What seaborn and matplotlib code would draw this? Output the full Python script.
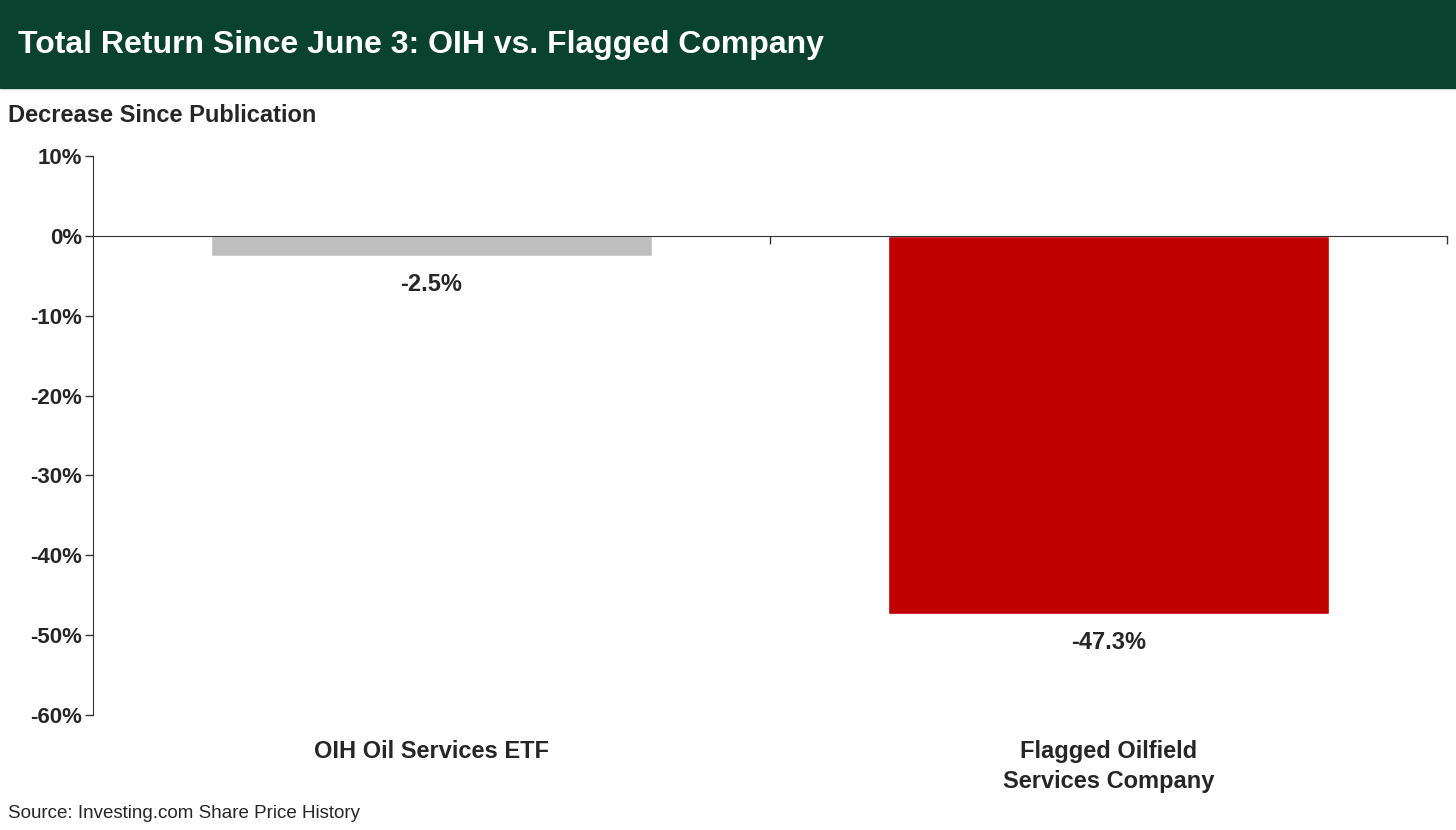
import matplotlib
matplotlib.use('Agg')
import matplotlib.pyplot as plt
import matplotlib.transforms as mtransforms
import seaborn as sns
import pandas as pd

categories = ['OIH Oil Services ETF', 'Flagged Oilfield\nServices Company']
values = [-2.5, -47.3]
bar_colors = ['#bfbfbf', '#c00000']
yticks = [10, 0, -10, -20, -30, -40, -50, -60]

df = pd.DataFrame({'cat': categories, 'val': values})

sns.set_style('white')
plt.rcParams['font.family'] = ['Liberation Sans', 'DejaVu Sans']

fig = plt.figure(figsize=(14.56, 8.3), dpi=100)
ax = fig.add_axes([93/1456, 1-715/830, 1354/1456, (715-156)/830])

sns.barplot(data=df, x='cat', y='val', hue='cat', palette=bar_colors,
            width=0.65, legend=False, ax=ax, saturation=1)

ax.set_xlim(-0.5, 1.5)
ax.set_ylim(-60, 10)
ax.set_yticks(yticks)
ax.set_yticklabels([f'{t}%' for t in yticks], fontsize=16, fontweight='bold')
ax.tick_params(axis='y', length=6, width=1, color='#333333', pad=2, direction='out', left=True)
ax.set_xlabel('')
ax.set_ylabel('')

for s in ['top', 'right']:
    ax.spines[s].set_visible(False)
ax.spines['left'].set_color('#333333')
ax.spines['bottom'].set_position(('data', 0))
ax.spines['bottom'].set_color('#333333')
ax.set_xticks([0, 1])
ax.set_xticklabels([])
ax.tick_params(axis='x', which='major', length=0)
ax.set_xticks([0.5, 1.5], minor=True)
ax.tick_params(axis='x', which='minor', length=6, width=1, color='#333333', direction='out', bottom=True)

trans = mtransforms.blended_transform_factory(ax.transData, ax.transAxes)
for i, c in enumerate(categories):
    ax.text(i, -0.045, c, transform=trans, ha='center', va='top',
            fontsize=17, fontweight='bold', linespacing=1.4)

for i, v in enumerate(values):
    ax.text(i, v - 2.2, f'{v:.1f}%', ha='center', va='top', fontsize=17, fontweight='bold')

# title bar
fig.patches.append(plt.Rectangle((0, 1-88/830), 1, 88/830, transform=fig.transFigure,
                                 color='#0a4230', zorder=0))
fig.text(18/1456, 1-45/830, 'Total Return Since June 3: OIH vs. Flagged Company',
         color='white', fontsize=23, fontweight='bold', va='center', ha='left')
fig.text(8/1456, 1-116/830, 'Decrease Since Publication', fontsize=17,
         fontweight='bold', va='center', ha='left')
fig.text(8/1456, 1-813/830, 'Source: Investing.com Share Price History', fontsize=13.5,
         va='center', ha='left')

fig.savefig('out.png', dpi=100)
